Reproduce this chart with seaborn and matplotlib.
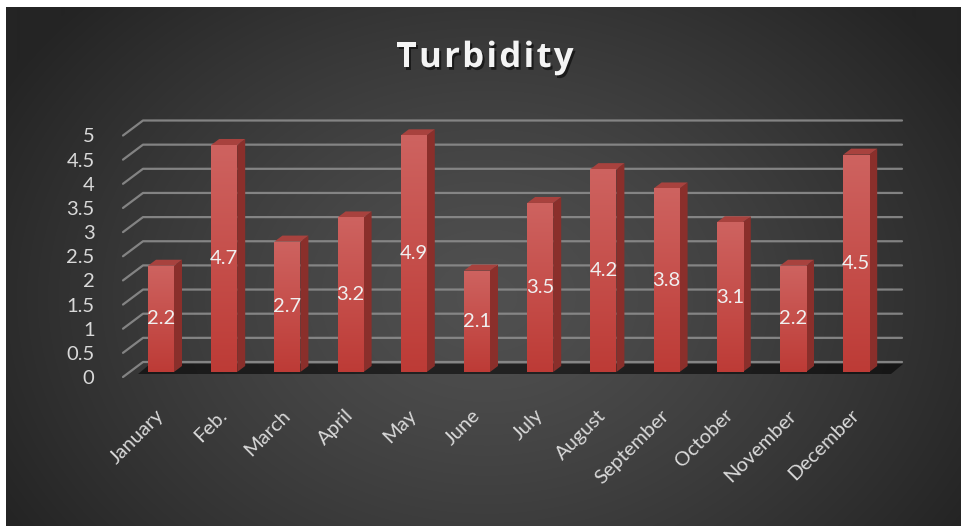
import numpy as np
import matplotlib
matplotlib.use("Agg")
import matplotlib.pyplot as plt
import matplotlib.patheffects as pe
from matplotlib.patches import Polygon
import seaborn as sns

# ---- data ----
months = ["January", "Feb.", "March", "April", "May", "June", "July",
          "August", "September", "October", "November", "December"]
turbidity = [2.2, 4.7, 2.7, 3.2, 4.9, 2.1, 3.5, 4.2, 3.8, 3.1, 2.2, 4.5]
y_ticks = [0, 0.5, 1, 1.5, 2, 2.5, 3, 3.5, 4, 4.5, 5]
y_tick_labels = ["0", "0.5", "1", "1.5", "2", "2.5", "3", "3.5", "4", "4.5", "5"]
title = "Turbidity"

W, H = 961, 526
DPI = 100

sns.set_theme(style="white")
plt.rcParams["font.family"] = ["Lato", "DejaVu Sans"]

fig = plt.figure(figsize=(W / DPI, H / DPI), dpi=DPI, facecolor="white")

# ---- dark radial backdrop ----
bg = fig.add_axes([6 / W, 0, (W - 7) / W, (H - 7) / H])
bg.set_axis_off()
gy, gx = np.mgrid[0:H - 7, 0:W - 7]
r = np.sqrt(((gx - 480) / 560.0) ** 2 + ((gy - 290) / 430.0) ** 2)
t = np.clip(r, 0, 1) ** 1.3
inner, outer = 0x50 / 255, 0x24 / 255
shade = inner + (outer - inner) * t
bg.imshow(np.dstack([shade, shade, shade]), aspect="auto", interpolation="bilinear")

# ---- pixel layout of the plotting area ----
CX0, CDX = 161.0, 63.2      # px of first category centre, px per category
PY0, PYU = 372.0, 48.3      # px of value 0 (front of bars), px per unit
L, R, T, B = 96, 930, 100, 400


def xd(px):
    return (px - CX0) / CDX


def yd(py):
    return (PY0 - py) / PYU


ax = fig.add_axes([L / W, 1 - B / H, (R - L) / W, (B - T) / H])
ax.set_facecolor("none")

# ---- bars (front faces) ----
bar_w = 26 / CDX
sns.barplot(x=months, y=turbidity, ax=ax, width=bar_w, color="#c4423d",
            saturation=1, zorder=3, edgecolor="none")
bars = list(ax.containers[0])

# depth offsets of the pseudo-3D box
FRONT_DY = yd(377) - yd(372)
BACK_DY = yd(362) - yd(372)
x_front_left, x_back_left, x_back_right = xd(123), xd(143), xd(902)

grid_color = "#8c8c8c"
for v in y_ticks:
    ax.plot([x_front_left, x_back_left, x_back_right],
            [v + FRONT_DY, v + BACK_DY, v + BACK_DY],
            color=grid_color, lw=1.6, alpha=0.9, zorder=1,
            solid_capstyle="round")

# floor shadow behind the bars
floor = Polygon([(xd(138), yd(374)), (xd(150), yd(364)),
                 (xd(903), yd(364)), (xd(891), yd(374))],
                closed=True, facecolor="black", edgecolor="none",
                alpha=0.55, zorder=1.5)
ax.add_patch(floor)

ddx = 8 / CDX
ddy = 6 / PYU
grad = np.linspace(0, 1, 256).reshape(-1, 1)
top_c = np.array([0xce, 0x63, 0x60]) / 255
bot_c = np.array([0xbd, 0x3b, 0x36]) / 255
grad_img = top_c[None, None, :] * (1 - grad[:, :, None]) + bot_c[None, None, :] * grad[:, :, None]

for patch, val in zip(bars, turbidity):
    x0 = patch.get_x()
    x1 = x0 + patch.get_width()
    h = patch.get_height()
    im = ax.imshow(grad_img, extent=[x0, x1, 0, h], aspect="auto",
                   zorder=3.1, interpolation="bilinear")
    im.set_clip_path(patch)
    side = Polygon([(x1, 0), (x1 + ddx, ddy), (x1 + ddx, h + ddy), (x1, h)],
                   closed=True, facecolor="#8a2f2b", edgecolor="none", zorder=2.9)
    top = Polygon([(x0, h), (x0 + ddx, h + ddy), (x1 + ddx, h + ddy), (x1, h)],
                  closed=True, facecolor="#a8423e", edgecolor="none", zorder=2.9)
    ax.add_patch(side)
    ax.add_patch(top)
    ax.text(x0 + patch.get_width() / 2, h / 2, f"{val:g}", ha="center",
            va="center", color="#f0f0f0", fontsize=14.5, zorder=5)

ax.set_xlim(xd(L), xd(R))
ax.set_ylim(yd(B), yd(T))

# ---- axes text ----
ax.set_yticks([v + FRONT_DY for v in y_ticks], labels=y_tick_labels)
ax.set_xticks(range(len(months)), labels=months)
ax.tick_params(axis="y", length=0, pad=1, labelsize=14.5, labelcolor="#d9d9d9")
ax.tick_params(axis="x", length=0, pad=9, labelsize=14.5, labelcolor="#d9d9d9")
for lab in ax.get_xticklabels():
    lab.set_rotation(45)
    lab.set_ha("right")
    lab.set_va("center")
    lab.set_rotation_mode("anchor")
ax.set_xlabel("")
ax.set_ylabel("")
for s in ax.spines.values():
    s.set_visible(False)
ax.grid(False)

# ---- letter-spaced title with soft shadow ----
title_kw = dict(fontsize=25, fontweight="bold", color="#f4f4f4",
                family=["Open Sans", "DejaVu Sans"], va="baseline", ha="left",
                path_effects=[pe.SimplePatchShadow(offset=(1.5, -2), shadow_rgbFace="black", alpha=0.55),
                              pe.Normal()])
renderer = fig.canvas.get_renderer()
widths = []
for ch in title:
    tmp = fig.text(0, 0, ch, **title_kw)
    widths.append(tmp.get_window_extent(renderer).width)
    tmp.remove()
target_w = 177.0
gap = (target_w - sum(widths)) / (len(title) - 1)
xpos = 485.0 - target_w / 2
for ch, wch in zip(title, widths):
    fig.text(xpos / W, 1 - 67 / H, ch, **title_kw)
    xpos += wch + gap

fig.savefig("out.png", dpi=DPI, facecolor="white")
